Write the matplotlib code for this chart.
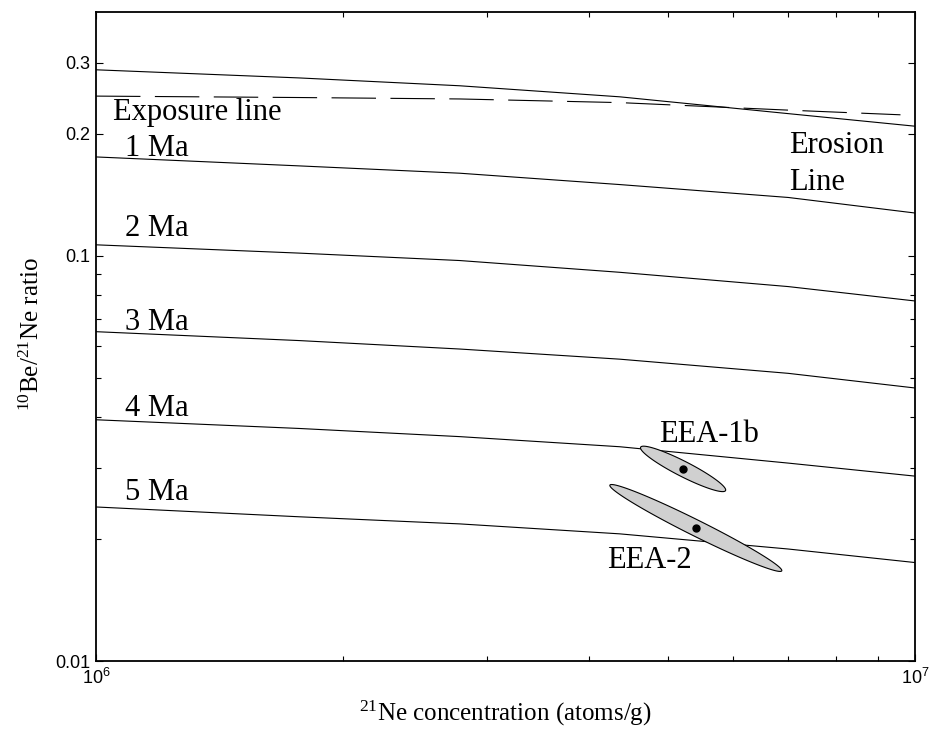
import matplotlib
matplotlib.use("Agg")
import matplotlib.pyplot as plt
import matplotlib.ticker as mticker
import numpy as np

plt.rcParams['font.family'] = ['Liberation Serif', 'DejaVu Serif']
plt.rcParams['mathtext.fontset'] = 'custom'
plt.rcParams['mathtext.rm'] = 'Liberation Serif'
plt.rcParams['mathtext.it'] = 'Liberation Serif:italic'
plt.rcParams['mathtext.sf'] = 'Liberation Sans'

# curves (21Ne conc, 10Be/21Ne ratio)
ne_grid = [1.0e6, 1.77e6, 2.78e6, 4.36e6, 7.0e6, 1.0e7]
erosion = [0.288, 0.275, 0.263, 0.247, 0.2245, 0.209]
iso_labels = ["1 Ma", "2 Ma", "3 Ma", "4 Ma", "5 Ma"]
iso_ratio = [
    [0.1755, 0.1668, 0.160, 0.150, 0.1394, 0.1276],
    [0.1065, 0.1016, 0.0974, 0.0911, 0.084, 0.0774],
    [0.065, 0.0618, 0.0589, 0.0556, 0.0513, 0.0472],
    [0.0394, 0.0375, 0.0358, 0.0338, 0.0308, 0.0286],
    [0.0240, 0.0227, 0.0218, 0.0206, 0.0189, 0.0175],
]
expo_ne = [1.0e6, 1.77e6, 2.78e6, 4.36e6, 7.0e6, 9.6e6]
exposure = [0.248, 0.246, 0.244, 0.239, 0.229, 0.223]

# samples: centre and log10 uncertainties of 21Ne and 10Be
samples = ["EEA-1b", "EEA-2"]
smp_ne = [5.21e6, 5.40e6]
smp_ratio = [0.0298, 0.0213]
sig_ne = [0.052, 0.105]
sig_be = [0.021, 0.022]

fig = plt.figure(figsize=(9.33, 7.36), dpi=100)
ax = fig.add_axes([96/933, 75/736, 819/933, 649/736])
ax.set_xscale('log')
ax.set_yscale('log')

ax.plot(ne_grid, erosion, color='black', lw=0.8)
for r in iso_ratio:
    ax.plot(ne_grid, r, color='black', lw=0.8)
ax.plot(expo_ne, exposure, color='black', lw=0.8, dashes=(40, 13))

# error ellipses drawn in log space
t = np.linspace(0, 2*np.pi, 300)
for i in range(len(samples)):
    lx = np.log10(smp_ne[i]) + sig_ne[i]*np.cos(t)
    ly = np.log10(smp_ratio[i]) + sig_be[i]*np.sin(t) - sig_ne[i]*np.cos(t)
    ax.fill(10**lx, 10**ly, fc='#d0d0d0', ec='black', lw=0.8, zorder=3)
    ax.plot(smp_ne[i], smp_ratio[i], 'o', color='black', ms=5, zorder=4)

ax.set_xlim(1e6, 1e7)
ax.set_ylim(0.01, 0.4)

# text labels
fs = 22
ax.text(0.021, 0.834, "Exposure line", transform=ax.transAxes, fontsize=fs, va='baseline')
label_y = [0.778, 0.655, 0.510, 0.3775, 0.248]
for lab, yy in zip(iso_labels, label_y):
    ax.text(0.035, yy, lab, transform=ax.transAxes, fontsize=fs, va='baseline')
ax.text(0.846, 0.783, "Erosion", transform=ax.transAxes, fontsize=fs, va='baseline')
ax.text(0.846, 0.726, "Line", transform=ax.transAxes, fontsize=fs, va='baseline')
ax.text(0.687, 0.3375, samples[0], transform=ax.transAxes, fontsize=fs, va='baseline')
ax.text(0.624, 0.1433, samples[1], transform=ax.transAxes, fontsize=fs, va='baseline')

# ticks
ax.xaxis.set_major_locator(mticker.FixedLocator([1e6, 1e7]))
ax.xaxis.set_major_formatter(mticker.FixedFormatter([r'$\mathsf{10^{6}}$', r'$\mathsf{10^{7}}$']))
ax.xaxis.set_minor_locator(mticker.FixedLocator([i*1e6 for i in range(2, 10)]))
ax.xaxis.set_minor_formatter(mticker.NullFormatter())
ax.yaxis.set_major_locator(mticker.FixedLocator([0.01, 0.1, 0.2, 0.3]))
ax.yaxis.set_major_formatter(mticker.FixedFormatter(['0.01', '0.1', '0.2', '0.3']))
ax.yaxis.set_minor_locator(mticker.FixedLocator([i*0.01 for i in range(2, 10)]))
ax.yaxis.set_minor_formatter(mticker.NullFormatter())

for lab in ax.get_yticklabels():
    lab.set_fontfamily('Liberation Sans')
ax.tick_params(which='both', direction='in', top=True, right=True, width=0.8)
ax.tick_params(which='major', length=5, labelsize=13)
ax.tick_params(axis='y', which='major', pad=4)
ax.tick_params(axis='x', which='major', pad=5)
ax.tick_params(which='minor', length=3.5)
for s in ax.spines.values():
    s.set_linewidth(1.3)

ax.set_xlabel(r'$^{21}$Ne concentration (atoms/g)', fontsize=18)
ax.set_ylabel(r'$^{10}$Be/$^{21}$Ne ratio', fontsize=18)
ax.xaxis.set_label_coords(0.5, -0.058)
ax.yaxis.set_label_coords(-0.064, 0.503)

fig.savefig('out.png', dpi=100)
